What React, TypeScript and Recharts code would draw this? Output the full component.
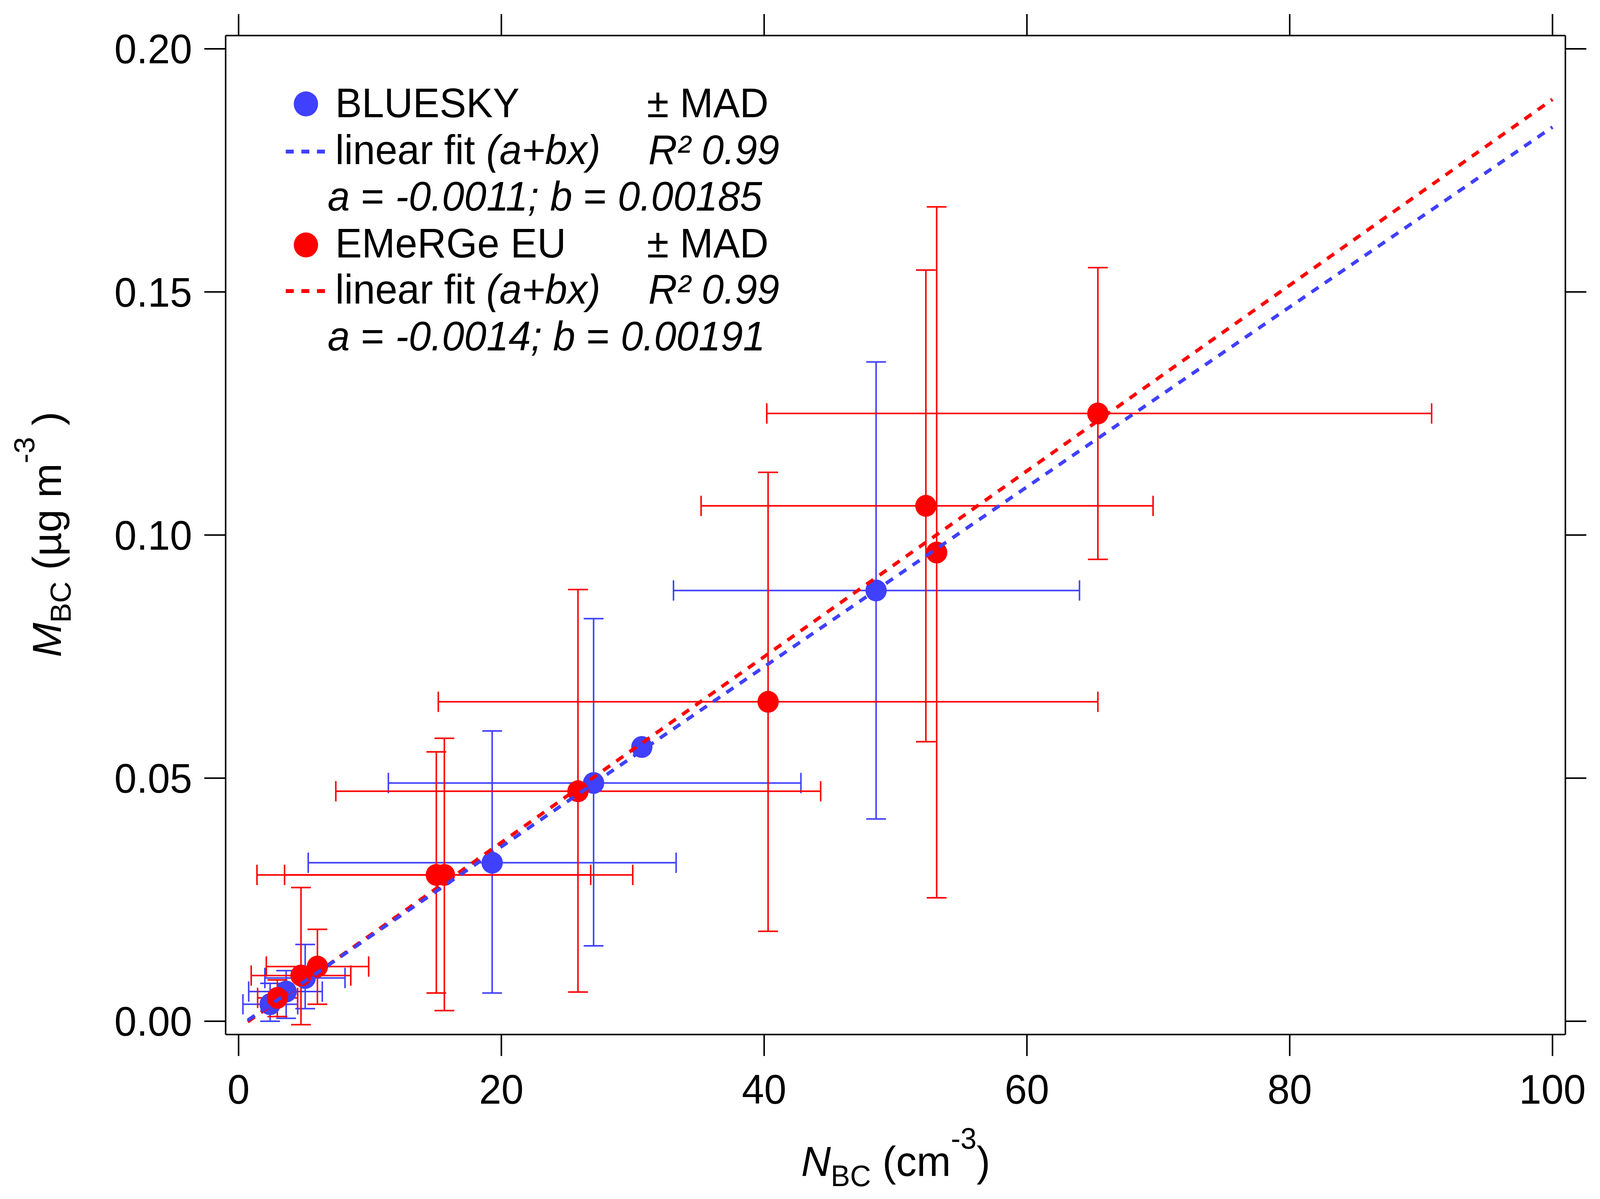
import React from 'react';
import { ComposedChart, Scatter, XAxis, YAxis, ErrorBar, Customized } from 'recharts';

const BLUE = '#4040ff';
const RED = '#ff0000';
const FONT = '"Liberation Sans", Arial, Helvetica, sans-serif';
const W = 4205;
const H = 3069;

const xTicks = [0, 20, 40, 60, 80, 100];
const yTicks = [0, 0.05, 0.1, 0.15, 0.2];

// BLUESKY: N_BC, M_BC and the MAD ranges (low / high ends)
const blueX = [2.4, 3.62, 5.07, 19.3, 27.02, 30.69, 48.52];
const blueY = [0.0035, 0.0061, 0.0089, 0.0326, 0.049, 0.0564, 0.0886];
const blueXLo = [0.33, 0.77, 2.0, 5.3, 11.4, 30.69, 33.1];
const blueXHi = [4.5, 6.37, 8.1, 33.3, 42.8, 30.69, 64.0];
const blueYLo = [0.0, 0.0006, 0.0026, 0.0058, 0.0155, 0.0564, 0.0416];
const blueYHi = [0.0078, 0.0104, 0.0158, 0.0597, 0.0828, 0.0564, 0.1356];

// EMeRGe EU
const redX = [2.95, 4.75, 6.0, 15.05, 15.66, 25.83, 40.3, 52.31, 53.13, 65.4];
const redY = [0.0048, 0.0094, 0.01125, 0.0301, 0.0301, 0.0473, 0.0657, 0.106, 0.0964, 0.125];
const redXLo = [1.45, 0.96, 2.11, 1.4, 3.5, 7.4, 15.2, 35.2, 53.13, 40.2];
const redXHi = [4.49, 8.54, 9.9, 26.8, 30.0, 44.3, 65.4, 69.6, 53.13, 90.8];
const redYLo = [0.00096, -0.0007, 0.0035, 0.0058, 0.0022, 0.006, 0.0185, 0.0575, 0.0254, 0.095];
const redYHi = [0.0085, 0.0275, 0.0189, 0.0554, 0.0582, 0.0888, 0.1129, 0.1545, 0.1675, 0.155];

// linear fit end points
const fitX = [0.7, 100];
const blueFitY = [0.0002, 0.1839];
const redFitY = [-0.0001, 0.1896];

const rows = (xs: number[], ys: number[], xlo: number[], xhi: number[], ylo: number[], yhi: number[]) =>
  xs.map((x, i) => ({
    x,
    y: ys[i],
    ex: [x - xlo[i], xhi[i] - x],
    ey: [ys[i] - ylo[i], yhi[i] - ys[i]],
  }));

const blueData = rows(blueX, blueY, blueXLo, blueXHi, blueYLo, blueYHi);
const redData = rows(redX, redY, redXLo, redXHi, redYLo, redYHi);
const blueFit = fitX.map((x, i) => ({ x, y: blueFitY[i] }));
const redFit = fitX.map((x, i) => ({ x, y: redFitY[i] }));

const dot = (color: string) => (p: any) => <circle cx={p.cx} cy={p.cy} r={28} fill={color} />;
const noDot = () => <g />;
const noLabel = () => <g />;

const it = { fontStyle: 'italic' as const };

function Overlay() {
  const base = { fontFamily: FONT, fontSize: 105, fill: '#000' };
  return (
    <g>
      {/* legend */}
      <circle cx={804} cy={266} r={32} fill={BLUE} />
      <text x={881} y={300} {...base}>BLUESKY</text>
      <text x={1700} y={300} {...base}>± MAD</text>
      <line x1={751} x2={854} y1={388} y2={388} stroke={BLUE} strokeWidth={10} strokeDasharray="21 20" />
      <text x={881} y={420} {...base}>linear fit <tspan {...it}>(a+bx)</tspan></text>
      <text x={1704} y={420} {...base} {...it}>R² 0.99</text>
      <text x={861} y={539} {...base}>
        <tspan {...it}>a</tspan> = <tspan {...it}>-0.0011;</tspan> <tspan {...it}>b</tspan> = <tspan {...it}>0.00185</tspan>
      </text>
      <circle cx={804} cy={627} r={32} fill={RED} />
      <text x={881} y={659} {...base}>EMeRGe EU</text>
      <text x={1700} y={659} {...base}>± MAD</text>
      <line x1={751} x2={854} y1={745} y2={745} stroke={RED} strokeWidth={10} strokeDasharray="21 20" />
      <text x={881} y={777} {...base}>linear fit <tspan {...it}>(a+bx)</tspan></text>
      <text x={1704} y={777} {...base} {...it}>R² 0.99</text>
      <text x={861} y={897} {...base}>
        <tspan {...it}>a</tspan> = <tspan {...it}>-0.0014;</tspan> <tspan {...it}>b</tspan> = <tspan {...it}>0.00191</tspan>
      </text>

      {/* axis titles */}
      <text x={2354} y={3010} textAnchor="middle" {...base} fontSize={108}>
        <tspan {...it}>N</tspan>
        <tspan fontSize={76} dy={26}>BC</tspan>
        <tspan dy={-26}> (cm</tspan>
        <tspan fontSize={76} dy={-70}>-3</tspan>
        <tspan dy={70}>)</tspan>
      </text>
      <text transform="translate(160,1368) rotate(-90)" textAnchor="middle" {...base} fontSize={106}>
        <tspan {...it}>M</tspan>
        <tspan fontSize={76} dy={26}>BC</tspan>
        <tspan dy={-26}> (µg m</tspan>
        <tspan fontSize={76} dy={-70}>-3</tspan>
        <tspan dy={70}> )</tspan>
      </text>
    </g>
  );
}

const axisLine = { stroke: '#000', strokeWidth: 4 };
const tickLine = { stroke: '#000', strokeWidth: 4 };
const tickFont = { fill: '#000', fontSize: 105, fontFamily: FONT };

if (typeof document !== 'undefined') {
  document.body.style.margin = '0';
  document.body.style.overflow = 'hidden';
}

export default function App() {
  // fit the fixed-size chart into whatever the window really shows
  const vw = typeof window !== 'undefined' && window.innerWidth ? window.innerWidth : W;
  const vh = typeof window !== 'undefined' && window.innerHeight ? window.innerHeight : H;
  const sx = Math.min(1, vw / W);
  const sy = Math.min(1, vh / H);
  return (
    <div
      style={{
        position: 'absolute',
        left: 0,
        top: 0,
        width: W,
        height: H,
        background: '#fff',
        transform: `scale(${sx}, ${sy})`,
        transformOrigin: '0 0',
      }}
    >
      <ComposedChart width={W} height={H} margin={{ top: 31, right: 31, bottom: 121, left: 193 }}>
        <XAxis
          xAxisId="bottom"
          type="number"
          dataKey="x"
          domain={[-0.985, 100.98]}
          allowDataOverflow
          ticks={xTicks}
          axisLine={axisLine}
          tickLine={tickLine}
          tickSize={55}
          tickMargin={47}
          tick={tickFont}
          height={300}
        />
        <XAxis
          xAxisId="top"
          orientation="top"
          type="number"
          dataKey="x"
          domain={[-0.985, 100.98]}
          allowDataOverflow
          ticks={xTicks}
          axisLine={axisLine}
          tickLine={tickLine}
          tickSize={55}
          tick={noLabel}
          height={60}
        />
        <YAxis
          yAxisId="left"
          type="number"
          dataKey="y"
          domain={[-0.00273, 0.20273]}
          allowDataOverflow
          ticks={yTicks}
          tickFormatter={(v: number) => v.toFixed(2)}
          axisLine={axisLine}
          tickLine={tickLine}
          tickSize={56}
          tickMargin={32}
          tick={tickFont}
          width={400}
        />
        <YAxis
          yAxisId="right"
          orientation="right"
          type="number"
          dataKey="y"
          domain={[-0.00273, 0.20273]}
          allowDataOverflow
          ticks={yTicks}
          axisLine={axisLine}
          tickLine={tickLine}
          tickSize={55}
          tick={noLabel}
          width={60}
        />
        <Scatter data={blueData} xAxisId="bottom" yAxisId="left" shape={dot(BLUE)} isAnimationActive={false}>
          <ErrorBar dataKey="ex" direction="x" width={26} stroke={BLUE} strokeWidth={4} />
          <ErrorBar dataKey="ey" direction="y" width={26} stroke={BLUE} strokeWidth={4} />
        </Scatter>
        <Scatter data={redData} xAxisId="bottom" yAxisId="left" shape={dot(RED)} isAnimationActive={false}>
          <ErrorBar dataKey="ex" direction="x" width={26} stroke={RED} strokeWidth={4} />
          <ErrorBar dataKey="ey" direction="y" width={26} stroke={RED} strokeWidth={4} />
        </Scatter>
        <Scatter
          data={redFit}
          xAxisId="bottom"
          yAxisId="left"
          shape={noDot}
          line={{ stroke: RED, strokeWidth: 9, strokeDasharray: '22 20' }}
          isAnimationActive={false}
        />
        <Scatter
          data={blueFit}
          xAxisId="bottom"
          yAxisId="left"
          shape={noDot}
          line={{ stroke: BLUE, strokeWidth: 9, strokeDasharray: '22 20' }}
          isAnimationActive={false}
        />
        <Customized component={Overlay} />
      </ComposedChart>
    </div>
  );
}
